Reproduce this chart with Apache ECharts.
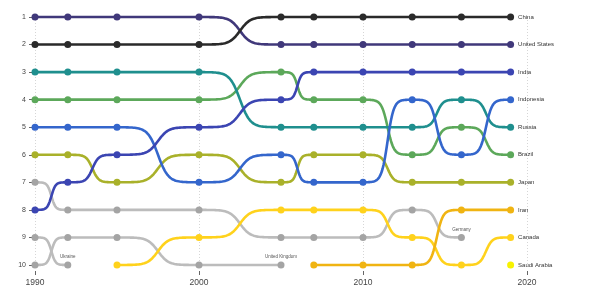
<!DOCTYPE html>
<html><head><meta charset="utf-8">
<script src="https://cdn.jsdelivr.net/npm/echarts@6/dist/echarts.min.js"></script>
<style>html,body{margin:0;padding:0;background:#fff}#c{width:600px;height:300px}</style>
</head><body><div id="c"></div>
<script>
var years = [1990, 1992, 1995, 2000, 2005, 2007, 2010, 2013, 2016, 2019];
var xTicks = [1990, 2000, 2010, 2020];
var rankTicks = [1,2,3,4,5,6,7,8,9,10];
var china        = [2, 2, 2, 2, 1, 1, 1, 1, 1, 1];
var unitedStates = [1, 1, 1, 1, 2, 2, 2, 2, 2, 2];
var india        = [8, 7, 6, 5, 4, 3, 3, 3, 3, 3];
var indonesia    = [5, 5, 5, 7, 6, 7, 7, 4, 6, 4];
var russia       = [3, 3, 3, 3, 5, 5, 5, 5, 4, 5];
var brazil       = [4, 4, 4, 4, 3, 4, 4, 6, 5, 6];
var japan        = [6, 6, 7, 6, 7, 6, 6, 7, 7, 7];
var iran         = [null, null, null, null, null, 10, 10, 10, 8, 8];
var canada       = [null, null, 10, 9, 8, 8, 8, 9, 10, 9];
var saudiArabia  = [null, null, null, null, null, null, null, null, null, 10];
var germany      = [7, 8, 8, 8, 9, 9, 9, 8, 9, null];
var ukraine      = [9, 10, null, null, null, null, null, null, null, null];
var unitedKingdom= [10, 9, 9, 10, 10, null, null, null, null, null];

var countries = [
  {name:'Germany', data:germany, color:'#bcbcbc', dot:'#a4a4a4', small:true},
  {name:'Ukraine', data:ukraine, color:'#bcbcbc', dot:'#a4a4a4', small:true},
  {name:'United Kingdom', data:unitedKingdom, color:'#bcbcbc', dot:'#a4a4a4', small:true},
  {name:'Saudi Arabia', data:saudiArabia, color:'#f7f200', dot:'#f7f200'},
  {name:'Canada', data:canada, color:'#ffd21c', dot:'#ffd21c'},
  {name:'Iran', data:iran, color:'#f0b412', dot:'#f0b412'},
  {name:'Japan', data:japan, color:'#a9b12a', dot:'#a9b12a'},
  {name:'Brazil', data:brazil, color:'#5ca85a', dot:'#5ca85a'},
  {name:'Russia', data:russia, color:'#1f8f8e', dot:'#1f8f8e'},
  {name:'Indonesia', data:indonesia, color:'#3466cc', dot:'#3466cc'},
  {name:'India', data:india, color:'#3b45b2', dot:'#3b45b2'},
  {name:'United States', data:unitedStates, color:'#40387a', dot:'#40387a'},
  {name:'China', data:china, color:'#2a2a2a', dot:'#2a2a2a'}
];

// sigmoid link between two points (ggbump-like), drawn in pixel space
function makeRender(color){
  return function(params, api){
    var p0 = api.coord([api.value(0), api.value(1)]);
    var p1 = api.coord([api.value(2), api.value(3)]);
    var pts = [], n = 60, k = 8;
    for (var i = 0; i <= n; i++) {
      var t = i / n, s = -k + 2 * k * t;
      var f = Math.exp(s) / (Math.exp(s) + 1);
      pts.push([p0[0] + (p1[0] - p0[0]) * t, p0[1] + (p1[1] - p0[1]) * f]);
    }
    return {type:'polyline', shape:{points:pts},
      style:{stroke:color, lineWidth:2.6, fill:null, lineCap:'round', lineJoin:'round'}};
  };
}

var series = [];
countries.forEach(function(c){
  var segs = [];
  for (var i = 0; i < c.data.length - 1; i++) {
    if (c.data[i] !== null && c.data[i+1] !== null)
      segs.push([years[i], c.data[i], years[i+1], c.data[i+1]]);
  }
  if (segs.length) series.push({
    type:'custom', name:c.name, data:segs, renderItem:makeRender(c.color),
    encode:{x:[0,2], y:[1,3]}, silent:true, animation:false
  });
  var last = -1;
  c.data.forEach(function(v,i){ if (v !== null) last = i; });
  var pts = [];
  c.data.forEach(function(v,i){
    if (v === null) return;
    var item = {value:[years[i], v]};
    if (i === last) {
      item.label = c.small ?
        {show:true, position:'top', distance:2, fontSize:4.5, color:'#555', formatter:c.name} :
        {show:true, position:'right', distance:4, fontSize:6, color:'#333', formatter:c.name};
    }
    pts.push(item);
  });
  series.push({
    type:'scatter', name:c.name, data:pts, symbol:'circle', symbolSize:7,
    itemStyle:{color:c.dot, opacity:1}, silent:true, animation:false
  });
});

var chart = echarts.init(document.getElementById('c'));
chart.setOption({
  animation:false,
  textStyle:{fontFamily:'Liberation Sans, Arial, sans-serif'},
  grid:{left:35, right:73, top:17, bottom:35},
  xAxis:{type:'value', min:xTicks[0], max:xTicks[xTicks.length-1], interval:10, offset:6,
    axisLine:{show:false}, axisTick:{show:true, length:4, lineStyle:{color:'#666'}},
    axisLabel:{fontSize:8.5, color:'#444', margin:7, formatter:function(v){return String(v);}},
    splitLine:{show:true, lineStyle:{color:'#d6d6d6', type:[1,2], width:1}}},
  yAxis:{type:'value', inverse:true, min:rankTicks[0], max:rankTicks[rankTicks.length-1], interval:1, offset:2,
    axisLine:{show:false}, axisTick:{show:true, length:4, lineStyle:{color:'#666'}},
    axisLabel:{fontSize:7, color:'#444', margin:7},
    splitLine:{show:false}},
  series:series
});
</script></body></html>
